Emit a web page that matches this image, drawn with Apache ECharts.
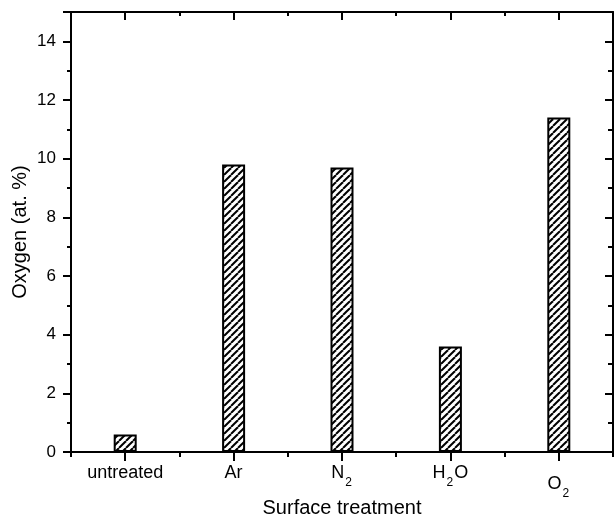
<!DOCTYPE html>
<html>
<head>
<meta charset="utf-8">
<script src="https://cdn.jsdelivr.net/npm/echarts@6/dist/echarts.min.js"></script>
<style>
  html, body { margin: 0; padding: 0; background: #fff; }
  #chart { width: 614px; height: 519px; }
</style>
</head>
<body>
<div id="chart"></div>
<script>
// Oxygen content after each surface treatment
const categories = ['untreated', 'Ar', 'N2', 'H2O', 'O2'];
const oxygen = [0.6, 9.8, 9.7, 3.6, 11.4];

// Axis tick labels with chemical subscripts (rich text)
const tickLabels = {
  untreated: '{b|untreated}',
  Ar: '{b|Ar}',
  N2: '{b|N}{s|2}',
  H2O: '{b|H}{s|2}{b|O}',
  O2: '{o|O}{os|2}'
};

const FONT = '"Liberation Sans", Arial, Helvetica, sans-serif';

// Diagonal hatch fill for the bars
function hatchPattern() {
  const size = 7;
  const c = document.createElement('canvas');
  c.width = size;
  c.height = size;
  const ctx = c.getContext('2d');
  ctx.fillStyle = '#fff';
  ctx.fillRect(0, 0, size, size);
  ctx.strokeStyle = '#000';
  ctx.lineWidth = 2;
  for (const k of [-size, 0, size]) {
    ctx.beginPath();
    ctx.moveTo(k, size);
    ctx.lineTo(k + size, 0);
    ctx.stroke();
  }
  return c;
}

const chart = echarts.init(document.getElementById('chart'), null, { renderer: 'canvas' });

const black = '#000';
const axisLine = { show: true, lineStyle: { color: black, width: 2 } };

const option = {
  backgroundColor: '#fff',
  animation: false,
  grid: { left: 71, right: 1, top: 12, bottom: 67, containLabel: false, outerBoundsMode: 'none' },
  xAxis: [
    {
      type: 'category',
      position: 'bottom',
      data: categories,
      axisLine: axisLine,
      axisTick: { show: true, alignWithLabel: true, length: 9, lineStyle: { color: black, width: 2 } },
      axisLabel: {
        margin: 12,
        color: black,
        fontFamily: FONT,
        formatter: (v) => tickLabels[v],
        rich: {
          b: { fontSize: 18, lineHeight: 18, verticalAlign: 'top', color: black, fontFamily: FONT },
          s: { fontSize: 12, lineHeight: 12, verticalAlign: 'top', padding: [13, 1, 0, 1], color: black, fontFamily: FONT },
          o: { fontSize: 18, lineHeight: 18, verticalAlign: 'top', padding: [11, 0, 0, 0], color: black, fontFamily: FONT },
          os: { fontSize: 12, lineHeight: 12, verticalAlign: 'top', padding: [24, 1, 0, 1], color: black, fontFamily: FONT }
        }
      },
      splitLine: { show: false },
      name: 'Surface treatment',
      nameLocation: 'middle',
      nameGap: 46,
      nameMoveOverlap: false,
      nameTextStyle: { fontSize: 20, color: black, fontFamily: FONT }
    },
    {
      type: 'category',
      position: 'bottom',
      data: categories,
      axisLine: { show: false },
      axisTick: { show: true, alignWithLabel: false, length: 5, lineStyle: { color: black, width: 2 } },
      axisLabel: { show: false },
      splitLine: { show: false }
    },
    {
      type: 'category',
      position: 'top',
      data: categories,
      axisLine: axisLine,
      axisTick: { show: true, inside: true, alignWithLabel: true, length: 8, lineStyle: { color: black, width: 2 } },
      axisLabel: { show: false },
      splitLine: { show: false }
    },
    {
      type: 'category',
      position: 'top',
      data: categories,
      axisLine: { show: false },
      axisTick: { show: true, inside: true, alignWithLabel: false, length: 4, lineStyle: { color: black, width: 2 } },
      axisLabel: { show: false },
      splitLine: { show: false }
    }
  ],
  yAxis: [
    {
      type: 'value',
      position: 'left',
      min: 0,
      max: 15,
      interval: 2,
      axisLine: axisLine,
      axisTick: { show: true, length: 8, lineStyle: { color: black, width: 2 } },
      minorTick: { show: true, splitNumber: 2, length: 4, lineStyle: { color: black, width: 2 } },
      axisLabel: { margin: 15, fontSize: 17, color: black, fontFamily: FONT, showMaxLabel: false },
      splitLine: { show: false },
      minorSplitLine: { show: false },
      name: 'Oxygen (at. %)',
      nameLocation: 'middle',
      nameGap: 41,
      nameMoveOverlap: false,
      nameTextStyle: { fontSize: 20, color: black, fontFamily: FONT }
    },
    {
      type: 'value',
      position: 'right',
      min: 0,
      max: 15,
      interval: 2,
      axisLine: axisLine,
      axisTick: { show: true, inside: true, length: 8, lineStyle: { color: black, width: 2 } },
      minorTick: { show: true, splitNumber: 2, length: 5, lineStyle: { color: black, width: 2 } },
      axisLabel: { show: false },
      splitLine: { show: false },
      minorSplitLine: { show: false }
    }
  ],
  series: [
    {
      type: 'bar',
      xAxisIndex: 0,
      yAxisIndex: 0,
      data: oxygen,
      barWidth: 23,
      itemStyle: {
        color: { image: hatchPattern(), repeat: 'repeat' },
        borderColor: black,
        borderWidth: 2
      }
    }
  ]
};

chart.setOption(option);
</script>
</body>
</html>
